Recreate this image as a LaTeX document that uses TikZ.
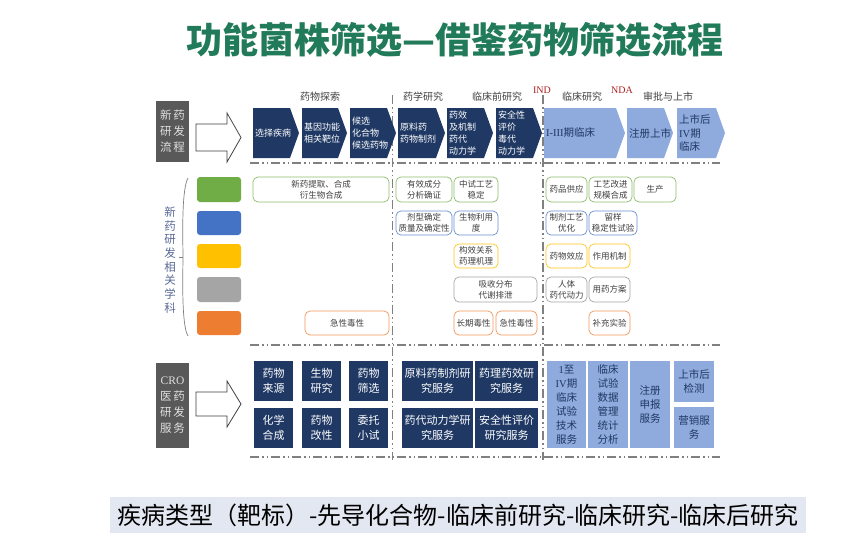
\documentclass[tikz,border=0pt]{standalone}
\usepackage{fontspec}
\setmainfont{Liberation Serif}
\newfontfamily\cjk{Noto Sans CJK SC}
\usetikzlibrary{calc}
\definecolor{navy}{HTML}{1F3864}
\definecolor{lblue}{HTML}{8FAADC}
\definecolor{titlegreen}{HTML}{217A5A}
\definecolor{boxgray}{HTML}{595959}
\definecolor{cgreen}{HTML}{70AD47}
\definecolor{cblue}{HTML}{4472C4}
\definecolor{cyellow}{HTML}{FFC000}
\definecolor{cgray}{HTML}{A5A5A5}
\definecolor{corange}{HTML}{ED7D31}
\definecolor{ink}{HTML}{404040}
\definecolor{lbl}{HTML}{5A6A96}
\definecolor{indred}{HTML}{B02020}
\definecolor{band}{HTML}{E2E7F1}
\newcommand\fs[2]{\fontsize{#1}{#2}\selectfont}
\newcommand\lat[1]{{\rmfamily #1}}
\newcommand\boxat[7]{%
 \node[#6, minimum width={(#4-#2)*1pt}, minimum height={(#5-#3)*1pt}] (#1) at ({(#2+#4)/2},{(#3+#5)/2}) {#7};}
\newcommand\chev[6]{%
 \fill[#4] (#2,108) -- ({#3-9},108) -- (#3,133) -- ({#3-9},158) -- (#2,158) -- cycle;
 \node[#5, anchor=west] (#1) at ({#2+2},133) {#6};}
\tikzset{
 sbox/.style={draw, rounded corners=5pt, line width=0.7pt, fill=white, inner sep=0pt, outer sep=0pt, align=center, text=ink, font={\cjk\fs{8.5}{11}}},
 gbox/.style={fill=boxgray, inner sep=0pt, align=center, text=white!88!black, font={\cjk\fs{11.5}{16}}},
 nbox/.style={fill=navy, inner sep=0pt, align=center, text=white, font={\cjk\fs{11}{14.5}}},
 lbox/.style={fill=lblue, inner sep=0pt, align=center, text=navy, font={\cjk\fs{10.5}{14}}},
 cbox/.style={rounded corners=3pt, inner sep=0pt},
 ctext/.style={align=left, text=white, font={\cjk\fs{9}{12}}, inner sep=0pt},
 ltext/.style={align=left, text=navy, font={\cjk\fs{10.5}{13.5}}, inner sep=0pt},
 phase/.style={font={\cjk\fs{10}{12}}, text=ink, inner sep=0pt},
 milestone/.style={font={\fs{10}{12}}, text=indred, inner sep=0pt},
 dd/.style={draw=gray, line width=1.3pt, dash pattern=on 9pt off 3pt on 1.5pt off 3pt on 1.5pt off 3pt},
 hollow/.style={draw=ink, line width=0.8pt, fill=white}
}
\begin{document}
\begin{tikzpicture}[x=1pt,y=-1pt]
\useasboundingbox (0,0) rectangle (850,544);
\fill[white] (0,0) rectangle (850,544);

% title
\node[font={\cjk\bfseries\fs{36}{40}}, text=titlegreen] (title) at (455,40) {功能菌株筛选—借鉴药物筛选流程};

% separators
\draw[dd] (392.5,95) -- (392.5,460);
\draw[dd] (543,95) -- (543,460);
\draw[dd] (250,163) -- (720,163);
\draw[dd] (250,345) -- (720,345);
\draw[dd] (250,457) -- (720,457);

% phase headers
\node[phase] (h1) at (320,97) {药物探索};
\node[phase] (h2) at (423,97) {药学研究};
\node[phase] (h3) at (497,97) {临床前研究};
\node[milestone] (ind) at (542,90) {IND};
\node[phase] (h4) at (582,97) {临床研究};
\node[milestone] (nda) at (622,90) {NDA};
\node[phase] (h5) at (668,97) {审批与上市};

% left labels and arrows
\boxat{g1}{156}{101}{189}{162}{gbox}{新\,药\\研\,发\\流\,程}
\draw[hollow] (196,124) -- (227,124) -- (227,113) -- (241,137.5) -- (227,162) -- (227,151) -- (196,151) -- cycle;
\boxat{g2}{156}{363}{189}{448}{gbox}{\lat{CRO}\\医\,药\\研\,发\\服\,务}
\draw[hollow] (196,392) -- (227,392) -- (227,381) -- (241,404) -- (227,427) -- (227,416) -- (196,416) -- cycle;

% chevrons
\chev{c1}{253}{299}{navy}{ctext}{选择疾病}
\chev{c2}{302}{347}{navy}{ctext}{基因功能\\相关靶位}
\chev{c3}{350}{396}{navy}{ctext}{候选\\化合物\\候选药物}
\chev{c4}{398}{445}{navy}{ctext}{原料药\\药物制剂}
\chev{c5}{447}{493}{navy}{ctext}{药效\\及机制\\药代\\动力学}
\chev{c6}{496}{542}{navy}{ctext}{安全性\\评价\\毒代\\动力学}
\chev{c7}{544}{625}{lblue}{ltext}{\lat{I-III}期临床}
\chev{c8}{627}{673}{lblue}{ltext}{注册上市}
\chev{c9}{677}{725}{lblue}{ltext}{上市后\\\lat{IV}期\\临床}

% discipline label + brace
\node[font={\cjk\fs{11.5}{13.7}}, text=lbl, align=center, inner sep=0pt] (vl) at (170,260) {新\\药\\研\\发\\相\\关\\学\\科};
\draw[gray, line width=0.7pt] (188,178) .. controls (181,190) and (183,245) .. (183,257) .. controls (183,269) and (181,325) .. (188,336);
\draw[gray, line width=0.7pt] (183,257) -- (179,257);

% colour keys
\boxat{k1}{197}{177}{241}{202}{cbox, fill=cgreen}{}
\boxat{k2}{197}{211}{241}{235}{cbox, fill=cblue}{}
\boxat{k3}{197}{244}{241}{268}{cbox, fill=cyellow}{}
\boxat{k4}{197}{277}{241}{302}{cbox, fill=cgray}{}
\boxat{k5}{197}{311}{241}{335}{cbox, fill=corange}{}

% discipline boxes
\boxat{m1}{253}{177}{389}{202}{sbox, draw=cgreen!80}{新药提取、合成\\衍生物合成}
\boxat{m2}{396}{177}{452}{202}{sbox, draw=cgreen!80}{有效成分\\分析确证}
\boxat{m3}{454}{177}{498}{202}{sbox, draw=cgreen!80}{中试工艺\\稳定}
\boxat{m4}{546}{177}{587}{202}{sbox, draw=cgreen!80}{药品供应}
\boxat{m5}{589}{177}{632}{202}{sbox, draw=cgreen!80}{工艺改进\\规模合成}
\boxat{m6}{634}{177}{676}{202}{sbox, draw=cgreen!80}{生产}
\boxat{m7}{396}{211}{452}{235}{sbox, draw=cblue!80}{剂型确定\\质量及确定性}
\boxat{m8}{454}{211}{498}{235}{sbox, draw=cblue!80}{生物利用\\度}
\boxat{m9}{546}{211}{587}{235}{sbox, draw=cblue!80}{制剂工艺\\优化}
\boxat{m10}{589}{211}{637}{235}{sbox, draw=cblue!80}{留样\\稳定性试验}
\boxat{m11}{454}{244}{498}{268}{sbox, draw=cyellow!90}{构效关系\\药理机理}
\boxat{m12}{546}{244}{587}{268}{sbox, draw=cyellow!90}{药物效应}
\boxat{m13}{589}{244}{630}{268}{sbox, draw=cyellow!90}{作用机制}
\boxat{m14}{454}{277}{537}{302}{sbox, draw=cgray}{吸收分布\\代谢排泄}
\boxat{m15}{546}{277}{587}{302}{sbox, draw=cgray}{人体\\药代动力}
\boxat{m16}{589}{277}{630}{302}{sbox, draw=cgray}{用药方案}
\boxat{m17}{305}{311}{389}{335}{sbox, draw=corange!80}{急性毒性}
\boxat{m18}{454}{311}{493}{335}{sbox, draw=corange!80}{长期毒性}
\boxat{m19}{496}{311}{537}{335}{sbox, draw=corange!80}{急性毒性}
\boxat{m20}{589}{311}{630}{335}{sbox, draw=corange!80}{补充实验}

% CRO services
\boxat{b1}{254}{361}{293}{401}{nbox}{药物\\来源}
\boxat{b2}{302}{361}{341}{401}{nbox}{生物\\研究}
\boxat{b3}{349}{361}{388}{401}{nbox}{药物\\筛选}
\boxat{b4}{254}{408}{293}{448}{nbox}{化学\\合成}
\boxat{b5}{302}{408}{341}{448}{nbox}{药物\\改性}
\boxat{b6}{349}{408}{388}{448}{nbox}{委托\\小试}
\boxat{b7}{402}{361}{473}{401}{nbox}{原料药制剂研\\究服务}
\boxat{b8}{475}{361}{538}{401}{nbox}{药理药效研\\究服务}
\boxat{b9}{402}{408}{473}{448}{nbox}{药代动力学研\\究服务}
\boxat{b10}{475}{408}{538}{448}{nbox}{安全性评价\\研究服务}
\boxat{l1}{547}{361}{586}{448}{lbox}{\lat{1}至\\\lat{IV}期\\临床\\试验\\技术\\服务}
\boxat{l2}{588}{361}{628}{448}{lbox}{临床\\试验\\数据\\管理\\统计\\分析}
\boxat{l3}{630}{361}{670}{448}{lbox}{注册\\申报\\服务}
\boxat{l4}{674}{361}{714}{402}{lbox}{上市后\\检测}
\boxat{l5}{674}{407}{714}{448}{lbox}{营销服\\务}

% bottom caption
\fill[band] (110,497) rectangle (806,533);
\node[font={\cjk\fs{24}{28}}, text=black, inner sep=0pt] (cap) at (458,515) {疾病类型（靶标）-先导化合物-临床前研究-临床研究-临床后研究};
\end{tikzpicture}
\end{document}
